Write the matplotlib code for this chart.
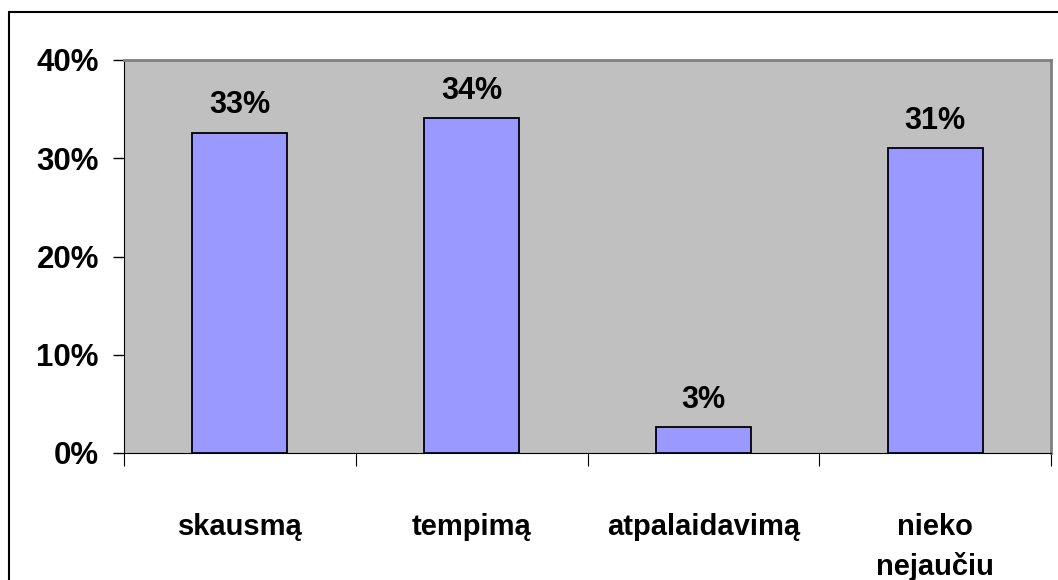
import matplotlib
matplotlib.use('Agg')
import matplotlib.pyplot as plt
from matplotlib.patches import Rectangle
import numpy as np

categories = ['skausmą', 'tempimą', 'atpalaidavimą', 'nieko\nnejaučiu']
shares = [32.6, 34.1, 2.6, 31.0]   # percent of respondents
y_ticks = [0, 10, 20, 30, 40]

plt.rcParams['font.family'] = ['Liberation Sans', 'DejaVu Sans']
plt.rcParams['font.weight'] = 'bold'

W, H = 1058, 580
fig = plt.figure(figsize=(W / 100, H / 100), dpi=100)
fig.patch.set_facecolor('white')

# outer chart frame
fig.add_artist(Rectangle((9 / W, -0.05), 1.2, 1 - 12 / H + 0.05, transform=fig.transFigure,
                         fill=False, edgecolor='black', linewidth=1.5))

left, right, top, bottom = 124, 1051, 60, 453
ax = fig.add_axes([left / W, 1 - bottom / H, (right - left) / W, (bottom - top) / H])
ax.set_facecolor('#c0c0c0')

x = np.arange(len(categories))
ax.bar(x, shares, width=0.41, color='#9999ff', edgecolor='black', linewidth=1.3, zorder=3)

for xi, v in zip(x, shares):
    ax.annotate(f"{v:.0f}%", (xi, v), xytext=(0, 14), textcoords='offset points',
                ha='center', va='baseline', fontsize=22, fontweight='bold')

ax.set_xlim(-0.5, len(categories) - 0.5)
ax.set_ylim(0, 40)
ax.set_yticks(y_ticks)
ax.set_yticklabels([f"{t}%" for t in y_ticks], fontsize=22.5, fontweight='bold')
ax.tick_params(axis='y', direction='out', length=8, width=1, pad=10)

# category labels on major ticks, tick marks on the boundaries
ax.set_xticks(x)
ax.set_xticklabels(categories, fontsize=21, fontweight='bold', linespacing=1.5, va='top')
ax.tick_params(axis='x', which='major', length=0, pad=43)
ax.set_xticks(np.arange(-0.5, len(categories)), minor=True)
ax.tick_params(axis='x', which='minor', direction='out', length=9, width=0.8)

for s in ['top', 'right']:
    ax.spines[s].set_color('#808080')
    ax.spines[s].set_linewidth(2)
ax.spines['left'].set_color('black')
ax.spines['bottom'].set_color('black')

fig.savefig('out.png', dpi=100)
